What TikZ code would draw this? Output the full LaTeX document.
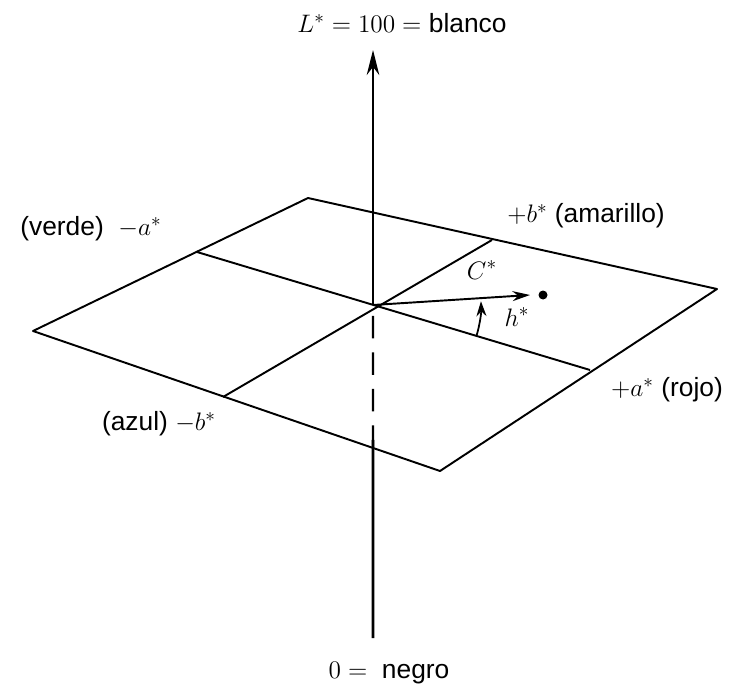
\documentclass[tikz,border=0pt]{standalone}
\usepackage[no-math]{fontspec}
\setmainfont{Liberation Sans}
\usetikzlibrary{arrows.meta, calc}
\begin{document}
\begin{tikzpicture}[
  x=0.02cm, y=0.02cm,
  plane/.style={line width=1.1pt, line join=round},
  axis/.style={line width=1.6pt},
  lab/.style={font=\fontsize{15}{18}\selectfont, inner sep=0pt}
]
\useasboundingbox (0,0) rectangle (732,690);
% corners and edge points of the a*b* plane
\coordinate (L) at (33,359);
\coordinate (T) at (308,492);
\coordinate (R) at (717,401);
\coordinate (B) at (440,219);
\coordinate (O) at (373,385);
\coordinate (ma) at (197,438);
\coordinate (pa) at (590,320);
\coordinate (pb) at (492,450);
\coordinate (mb) at (223,293);
\coordinate (top) at (373,640);
\coordinate (bot) at (373,52);
\coordinate (Bx) at (intersection of L--B and O--bot);
\coordinate (Cend) at (530,395);
\draw[plane] (L) -- (T) -- (R) -- (B) -- cycle;
\draw[plane] (ma) -- (pa);
\draw[plane] (mb) -- (pb);
% L* axis
\draw[axis] (bot) -- ($(Bx)+(0,8)$);
\draw[line width=1.3pt, dash pattern=on 0.45cm off 0.28cm] (Bx) -- (O);
\draw[axis, -{Stealth[length=0.5cm, width=0.25cm]}] (O) -- (top);
% chroma and hue
\draw[line width=1.1pt, -{Stealth[length=0.35cm, width=0.2cm]}] (O) -- (Cend);
\fill (543,395) circle[radius=4.5];
\draw[line width=1pt, -{Stealth[length=0.3cm, width=0.2cm]}] ($(O)+(-16.2:108)$) arc[start angle=-16.2, end angle=2, radius=108];
\node[lab] (blanco) at (402,667) {$L^* = 100 =$ blanco};
\node[lab] (negro) at (389,17) {$0 =$\ \ negro};
\node[lab] (verde) at (91,461) {(verde)\ \ $-a^*$};
\node[lab] (amarillo) at (586,474) {$+b^*$ (amarillo)};
\node[lab] (rojo) at (667,300) {$+a^*$ (rojo)};
\node[lab] (azul) at (159,266) {(azul) $-b^*$};
\node[lab] (croma) at (482,420) {$C^*$};
\node[lab] (tono) at (517,373) {$h^*$};
\end{tikzpicture}
\end{document}
